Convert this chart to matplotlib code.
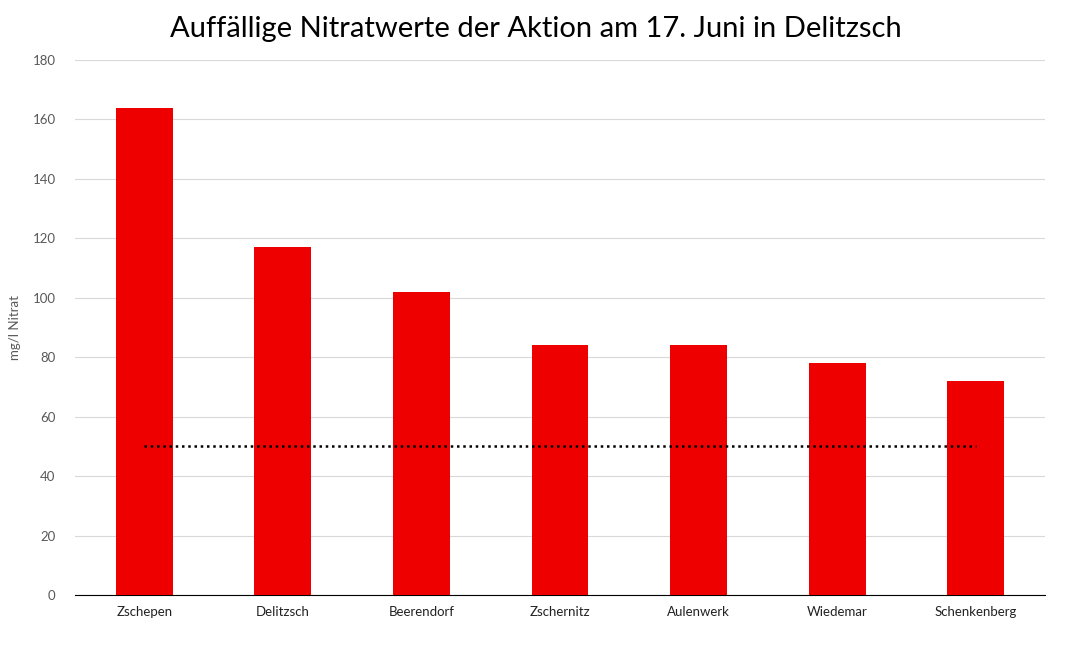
import matplotlib
matplotlib.use("Agg")
from matplotlib import pyplot as plt
import numpy as np

plt.rcParams['font.family'] = ['Lato', 'DejaVu Sans']

# ______DATA______
orte = ["Zschepen", "Delitzsch", "Beerendorf", "Zschernitz", "Aulenwerk", "Wiedemar", "Schenkenberg"]
nitrat = [164, 117, 102, 84, 84, 78, 72]
grenzwert = 50
yTicks = [0, 20, 40, 60, 80, 100, 120, 140, 160, 180]

# ______PLOT______
fig = plt.figure(figsize=(10.71, 6.45), dpi=100)
ax = fig.add_axes([75 / 1071, 50 / 645, 970 / 1071, 535 / 645])

x = np.arange(len(orte))
ax.bar(x, nitrat, width=0.41, color="#ee0000", zorder=3)
ax.plot([x[0], x[-1]], [grenzwert, grenzwert], color="black", linestyle=(0, (1, 1.5)), linewidth=1.8, zorder=4)

ax.set_xlim(-0.5, len(orte) - 0.5)
ax.set_ylim(0, 180)
ax.set_yticks(yTicks)
ax.set_xticks(x)
ax.set_xticklabels(orte, fontsize=9.5, color="#222222")
ax.tick_params(axis="y", labelsize=9.5, colors="#595959", length=0, pad=14)
ax.tick_params(axis="x", length=0, pad=8)
ax.grid(axis="y", color="#d9d9d9", linewidth=0.8, zorder=0)
for s in ["top", "right", "left"]:
    ax.spines[s].set_visible(False)
ax.spines["bottom"].set_color("black")
ax.set_ylabel("mg/l Nitrat", fontsize=9.5, color="#595959", labelpad=8)

fig.suptitle("Auffällige Nitratwerte der Aktion am 17. Juni in Delitzsch", fontsize=21, y=0.975)

fig.savefig("out.png", dpi=100)
